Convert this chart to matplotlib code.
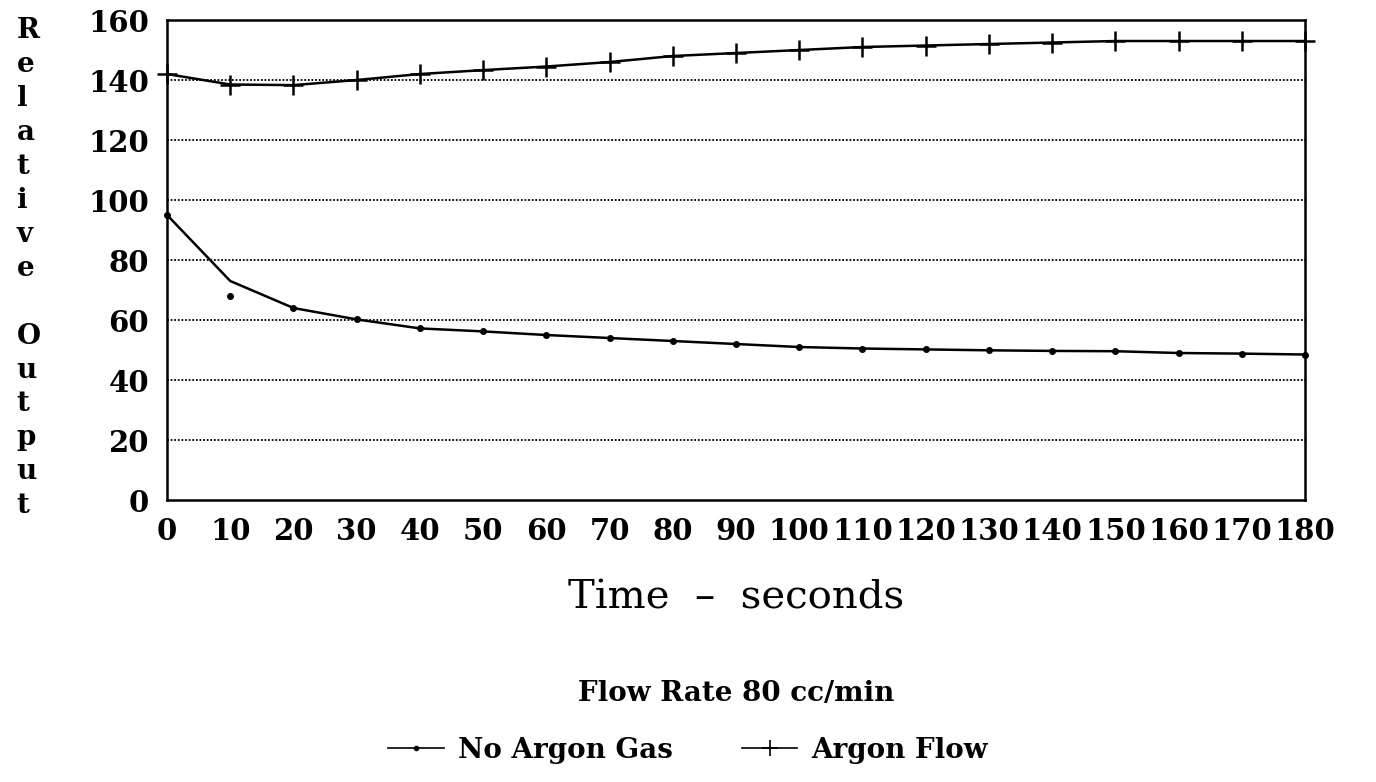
import matplotlib.pyplot as plt

# data
time_s = [0, 10, 20, 30, 40, 50, 60, 70, 80, 90, 100, 110, 120, 130, 140, 150, 160, 170, 180]
no_argon = [95, 68, 64, 60.2, 57.2, 56.2, 55, 54, 53, 52, 51, 50.5, 50.2, 49.9, 49.7, 49.6, 49, 48.8, 48.5]
# the drawn curve is smoothed and misses the 10 s point
no_argon_curve = [95, 73, 64, 60.2, 57.2, 56.2, 55, 54, 53, 52, 51, 50.5, 50.2, 49.9, 49.7, 49.6, 49, 48.8, 48.5]
argon_flow = [142, 138.5, 138.3, 140, 142, 143.3, 144.5, 146, 148, 149, 150, 151, 151.5, 152, 152.5, 153, 153, 153, 153]

x_ticks = list(range(0, 181, 10))
y_ticks = list(range(0, 161, 20))

plt.rcParams['font.family'] = ['DejaVu Serif']
plt.rcParams['font.weight'] = 'bold'

fig = plt.figure(figsize=(13.76, 7.82), dpi=100)
ax = fig.add_axes([0.1214, 0.3606, 0.827, 0.6138])

# grid
for y in y_ticks[1:-1]:
    ax.axhline(y, color='black', lw=1.3, ls=(0, (1, 1)), zorder=1)

ax.plot(time_s, no_argon_curve, color='black', lw=1.8, zorder=3, clip_on=False)
ax.plot(time_s, no_argon, ls='none', marker='o', ms=4, color='black', zorder=4, clip_on=False)
ax.plot(time_s, argon_flow, color='black', lw=1.8, marker='+', ms=14, mew=1.8, zorder=3, clip_on=False)

ax.set_xlim(0, 180)
ax.set_ylim(0, 160)
ax.set_xticks(x_ticks)
ax.set_yticks(y_ticks)
ax.tick_params(axis='both', labelsize=21, length=0, pad=13)
ax.tick_params(axis='x', pad=12)
for s in ax.spines.values():
    s.set_linewidth(1.8)

fig.text(0.012, 0.978, '\n'.join('Relative Output'), ha='left', va='top',
         fontsize=20, fontweight='bold', linespacing=1.33)

fig.text(0.535, 0.235, 'Time  \u2013  seconds', ha='center', va='center', fontsize=29, fontweight='normal')
fig.text(0.535, 0.113, 'Flow Rate 80 cc/min', ha='center', va='center', fontsize=20, fontweight='bold')

h1, = ax.plot([], [], color='black', lw=1.2, marker='o', ms=3)
h2, = ax.plot([], [], color='black', lw=1.2, marker='+', ms=12, mew=1.2)
fig.legend([h1, h2], ['No Argon Gas', 'Argon Flow'], loc='center', bbox_to_anchor=(0.5, 0.04),
           ncol=2, frameon=False, fontsize=20, handlelength=2.0, columnspacing=2.5, handletextpad=0.5)

plt.savefig('out.png', dpi=100)
